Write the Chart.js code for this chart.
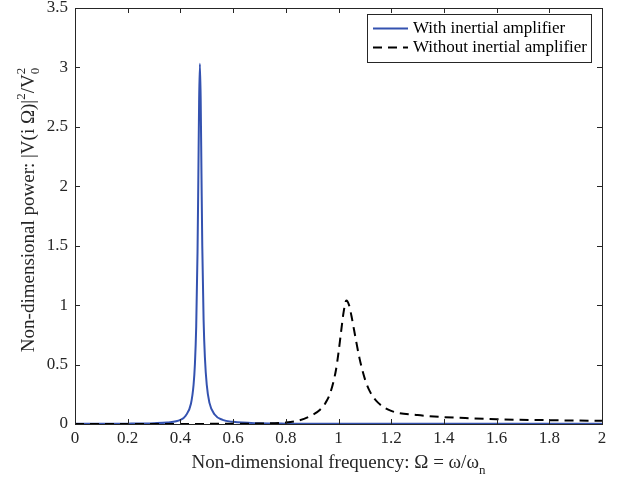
<!DOCTYPE html>
<html>
<head>
<meta charset="utf-8">
<script src="https://cdn.jsdelivr.net/npm/chart.js@4.4.1/dist/chart.umd.min.js"></script>
<style>
  html, body { margin: 0; padding: 0; background: #fff; }
  #wrap { width: 622px; height: 481px; }
</style>
</head>
<body>
<div id="wrap"><canvas id="powerChart" width="622" height="481"></canvas></div>
<script>
// values
const freqWith = [0, 0.1, 0.2, 0.3, 0.35, 0.4, 0.42, 0.44, 0.45, 0.455, 0.46, 0.465, 0.468, 0.471, 0.474,
  0.477, 0.48, 0.483, 0.488, 0.493, 0.5, 0.51, 0.53, 0.56, 0.6, 0.7, 0.8, 1.0, 1.4, 2.0];
const powerWith = [0.002, 0.002, 0.003, 0.007, 0.013, 0.035, 0.07, 0.17, 0.33, 0.5, 0.82, 1.45, 2.05, 2.71, 3.03,
  2.73, 2.1, 1.5, 0.88, 0.56, 0.33, 0.18, 0.08, 0.035, 0.018, 0.006, 0.003, 0.002, 0.002, 0.002];

const freqWithout = [0, 0.5, 0.7, 0.8, 0.85, 0.9, 0.93, 0.95, 0.97, 0.99, 1.0, 1.01, 1.02, 1.03, 1.04, 1.05,
  1.06, 1.08, 1.1, 1.12, 1.15, 1.2, 1.3, 1.4, 1.5, 1.6, 1.8, 2.0];
const powerWithout = [0, 0.001, 0.004, 0.012, 0.03, 0.075, 0.12, 0.175, 0.27, 0.45, 0.6, 0.78, 0.95, 1.04, 1.0, 0.9,
  0.78, 0.55, 0.38, 0.27, 0.18, 0.11, 0.075, 0.058, 0.048, 0.04, 0.032, 0.027];

const xTicks = [0, 0.2, 0.4, 0.6, 0.8, 1, 1.2, 1.4, 1.6, 1.8, 2];
const yTicks = [0, 0.5, 1, 1.5, 2, 2.5, 3, 3.5];

const seriesLabels = ['With inertial amplifier', 'Without inertial amplifier'];

const axisColor = '#262626';
const serif = '"Liberation Serif", "Times New Roman", serif';

// draws a row of text pieces, some raised or lowered (super/subscripts)
function drawPieces(ctx, pieces, x, y) {
  let total = 0;
  pieces.forEach(p => {
    ctx.font = p.size + 'px ' + serif;
    p.w = ctx.measureText(p.t).width;
    if (!p.stack) total += p.w;
  });
  let cx = x - total / 2;
  pieces.forEach(p => {
    ctx.font = p.size + 'px ' + serif;
    ctx.fillText(p.t, cx, y + (p.dy || 0));
    if (!p.stack) cx += p.w;
  });
}

const framePlugin = {
  id: 'frame',
  afterDraw(chart) {
    const ctx = chart.ctx;
    const a = chart.chartArea;
    const xs = chart.scales.x;
    const ys = chart.scales.y;
    ctx.save();
    ctx.strokeStyle = axisColor;
    ctx.lineWidth = 1;
    ctx.strokeRect(Math.round(a.left) + 0.5, Math.round(a.top) + 0.5,
      Math.round(a.right - a.left), Math.round(a.bottom - a.top));
    const len = 5;
    ctx.beginPath();
    xTicks.forEach(v => {
      const px = Math.round(xs.getPixelForValue(v)) + 0.5;
      ctx.moveTo(px, a.bottom); ctx.lineTo(px, a.bottom - len);
      ctx.moveTo(px, a.top); ctx.lineTo(px, a.top + len);
    });
    yTicks.forEach(v => {
      const py = Math.round(ys.getPixelForValue(v)) + 0.5;
      ctx.moveTo(a.left, py); ctx.lineTo(a.left + len, py);
      ctx.moveTo(a.right, py); ctx.lineTo(a.right - len, py);
    });
    ctx.stroke();

    // axis titles
    ctx.fillStyle = axisColor;
    ctx.textBaseline = 'alphabetic';
    ctx.textAlign = 'left';
    drawPieces(ctx, [
      { t: 'Non-dimensional frequency: \u03A9 = \u03C9/\u03C9', size: 19 },
      { t: 'n', size: 13, dy: 6 }
    ], (a.left + a.right) / 2, 468);

    ctx.save();
    ctx.translate(34, 210);
    ctx.rotate(-Math.PI / 2);
    drawPieces(ctx, [
      { t: 'Non-dimensional power: |V(i \u03A9)|', size: 19 },
      { t: '2', size: 13, dy: -9 },
      { t: '/V', size: 19 },
      { t: '2', size: 13, dy: -9, stack: true },
      { t: '0', size: 13, dy: 5 }
    ], 0, 0);
    ctx.restore();

    // legend
    const lx = 367, ly = 14;
    ctx.font = '17px ' + serif;
    const textW = Math.max(...seriesLabels.map(s => ctx.measureText(s).width));
    const boxW = 46 + textW + 4;
    ctx.fillStyle = '#fff';
    ctx.fillRect(lx, ly, boxW, 48);
    ctx.strokeStyle = axisColor;
    ctx.strokeRect(lx + 0.5, ly + 0.5, boxW, 48);
    chart.data.datasets.forEach((ds, i) => {
      const yy = ly + 14.5 + i * 19;
      ctx.strokeStyle = ds.borderColor;
      ctx.lineWidth = ds.borderWidth;
      ctx.setLineDash(ds.borderDash || []);
      ctx.beginPath();
      ctx.moveTo(lx + 6, yy); ctx.lineTo(lx + 41, yy);
      ctx.stroke();
      ctx.setLineDash([]);
      ctx.fillStyle = '#000';
      ctx.textBaseline = 'middle';
      ctx.fillText(ds.label, lx + 46, yy);
    });
    ctx.restore();
  }
};

const powerCtx = document.getElementById('powerChart').getContext('2d');
new Chart(powerCtx, {
  type: 'line',
  data: {
    datasets: [
      {
        label: seriesLabels[0],
        data: freqWith.map((f, i) => ({ x: f, y: powerWith[i] })),
        borderColor: '#3452b0',
        borderWidth: 2,
        pointRadius: 0,
        cubicInterpolationMode: 'monotone',
        fill: false,
        clip: 3,
        order: 1,
      },
      {
        label: seriesLabels[1],
        data: freqWithout.map((f, i) => ({ x: f, y: powerWithout[i] })),
        borderColor: '#000',
        borderWidth: 2,
        borderDash: [9, 6],
        pointRadius: 0,
        cubicInterpolationMode: 'monotone',
        fill: false,
        clip: 3,
        order: 0,
      },
    ],
  },
  options: {
    responsive: false,
    animation: false,
    layout: { padding: { top: 8, right: 20, left: 0, bottom: 0 } },
    plugins: {
      legend: { display: false },
      tooltip: { enabled: false },
    },
    scales: {
      x: {
        type: 'linear',
        min: 0,
        max: 2,
        grid: { display: false, drawTicks: false },
        border: { display: false },
        afterBuildTicks: s => { s.ticks = xTicks.map(v => ({ value: v })); },
        afterFit: s => { s.height = 57; s.paddingLeft = 0; s.paddingRight = 0; },
        ticks: {
          color: axisColor,
          padding: 4,
          maxRotation: 0,
          font: { family: serif, size: 17 },
          callback: v => String(Math.round(v * 10) / 10),
        },
      },
      y: {
        type: 'linear',
        min: 0,
        max: 3.5,
        grid: { display: false, drawTicks: false },
        border: { display: false },
        afterBuildTicks: s => { s.ticks = yTicks.map(v => ({ value: v })); },
        afterFit: s => { s.width = 75; s.paddingTop = 0; s.paddingBottom = 0; },
        ticks: {
          color: axisColor,
          padding: 7,
          font: { family: serif, size: 17 },
          callback: v => String(Math.round(v * 10) / 10),
        },
      },
    },
  },
  plugins: [framePlugin],
});
</script>
</body>
</html>
